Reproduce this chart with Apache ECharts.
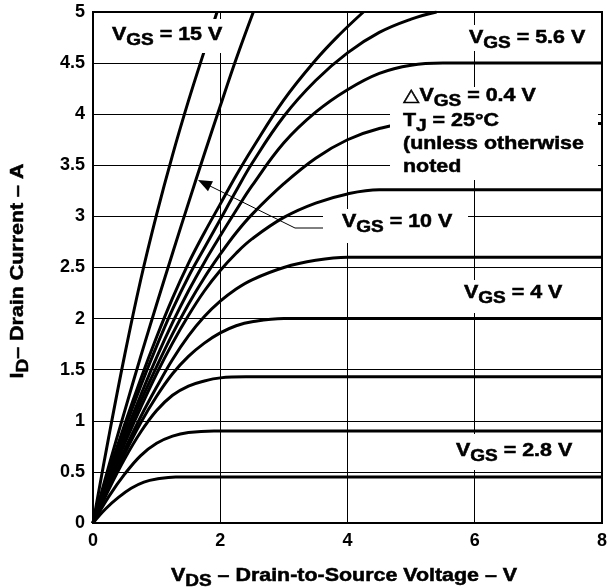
<!DOCTYPE html>
<html>
<head>
<meta charset="utf-8">
<script src="https://cdn.jsdelivr.net/npm/echarts@6/dist/echarts.min.js"></script>
<style>
  html, body { margin: 0; padding: 0; background: #fff; }
  #chart { width: 610px; height: 588px; }
</style>
</head>
<body>
<div id="chart"></div>
<script>
// Axis ticks
const xTicks = [0, 2, 4, 6, 8];
const yTicks = [0, 0.5, 1, 1.5, 2, 2.5, 3, 3.5, 4, 4.5, 5];

// Output characteristics: [V_DS (V), I_D (A)] for each gate voltage
const vgsLabels = ['2.8', '3.2', '3.6', '4.0', '4.4', '4.8', '5.2', '5.6', '6.0', '6.4', '10', '15'];
const id_2v8 = [[0,0],[0.2,0.14],[0.4,0.25],[0.6,0.34],[0.8,0.4],[1.0,0.43],[1.3,0.45],[8,0.45]];
const id_3v2 = [[0,0],[0.25,0.26],[0.5,0.48],[0.75,0.66],[1.0,0.78],[1.25,0.85],[1.5,0.885],[1.9,0.9],[8,0.9]];
const id_3v6 = [[0,0],[0.25,0.33],[0.5,0.63],[0.75,0.89],[1.0,1.1],[1.25,1.25],[1.5,1.34],[1.75,1.39],[2.0,1.42],[2.4,1.43],[8,1.43]];
const id_4v0 = [[0,0],[0.25,0.35],[0.5,0.68],[0.75,0.98],[1.0,1.24],[1.25,1.46],[1.5,1.63],[1.75,1.76],[2.0,1.86],[2.25,1.93],[2.5,1.97],[3.0,2.0],[8,2.0]];
const id_4v4 = [[0,0],[0.25,0.37],[0.5,0.72],[0.75,1.04],[1.0,1.33],[1.25,1.6],[1.5,1.83],[1.75,2.02],[2.0,2.17],[2.25,2.29],[2.5,2.38],[3.0,2.5],[3.5,2.57],[4.0,2.6],[8,2.6]];
const id_4v8 = [[0,0],[0.25,0.4],[0.5,0.78],[0.75,1.13],[1.0,1.46],[1.25,1.76],[1.5,2.03],[1.75,2.27],[2.0,2.47],[2.25,2.64],[2.5,2.78],[3.0,2.99],[3.5,3.13],[4.0,3.22],[4.5,3.26],[8,3.26]];
const id_5v2 = [[0,0],[0.25,0.42],[0.5,0.82],[0.75,1.19],[1.0,1.53],[1.25,1.85],[1.5,2.14],[1.75,2.4],[2.0,2.63],[2.25,2.84],[2.5,3.02],[3.0,3.32],[3.5,3.57],[4.0,3.75],[4.5,3.86],[5.0,3.91],[5.5,3.91],[8,3.91]];
const id_5v6 = [[0,0],[0.25,0.44],[0.5,0.86],[0.75,1.25],[1.0,1.62],[1.25,1.96],[1.5,2.27],[1.75,2.55],[2.0,2.81],[2.25,3.06],[2.5,3.3],[3.0,3.72],[3.5,4.02],[4.0,4.24],[4.5,4.4],[5.0,4.48],[5.5,4.5],[8,4.5]];
const id_6v0 = [[0,0],[0.25,0.47],[0.5,0.92],[0.75,1.34],[1.0,1.73],[1.25,2.09],[1.5,2.41],[1.75,2.69],[2.0,2.97],[2.25,3.25],[2.5,3.52],[3.0,3.98],[3.5,4.33],[4.0,4.6],[4.5,4.8],[5.0,4.93],[5.4,5.0]];
const id_6v4 = [[0,0],[0.25,0.5],[0.5,0.97],[0.75,1.41],[1.0,1.82],[1.25,2.2],[1.5,2.54],[1.75,2.84],[2.0,3.12],[2.25,3.4],[2.5,3.66],[3.0,4.14],[3.5,4.53],[3.86,4.77],[4.25,5.0]];
const id_10v = [[0,0],[0.25,0.56],[0.5,1.1],[0.75,1.63],[1.0,2.14],[1.25,2.64],[1.5,3.13],[1.75,3.61],[2.0,4.08],[2.25,4.54],[2.52,5.0]];
const id_15v = [[0,0],[0.25,0.85],[0.5,1.65],[0.75,2.38],[1.0,3.02],[1.25,3.6],[1.5,4.13],[1.75,4.62],[1.95,5.0]];

const curves = [id_2v8, id_3v2, id_3v6, id_4v0, id_4v4, id_4v8, id_5v2, id_5v6, id_6v0, id_6v4, id_10v, id_15v];

const FONT = '"Liberation Sans", Arial, "DejaVu Sans", sans-serif';
const SX = 1.19; // horizontal stretch of the annotation lettering
const measureCtx = document.createElement('canvas').getContext('2d');
function textWidth(str, size) {
  measureCtx.font = 'bold ' + size + 'px ' + FONT;
  return measureCtx.measureText(str).width * SX;
}

// Lays out a run of text pieces (normal / subscript) from left edge x, cap centre y
function runText(parts, x, y, size, subSize, subDrop) {
  const out = [];
  let cx = x;
  parts.forEach(function (p) {
    const s = p[1] ? subSize : size;
    out.push({
      type: 'text',
      x: cx,
      y: y + (p[1] ? subDrop : 0),
      scaleX: SX,
      z: 101,
      style: {
        text: p[0],
        font: 'bold ' + s + 'px ' + FONT,
        fill: '#000',
        stroke: '#000',
        lineWidth: 0.5,
        align: 'left',
        verticalAlign: 'middle'
      }
    });
    cx += textWidth(p[0], s);
  });
  return out;
}
function runWidth(parts, size, subSize) {
  return parts.reduce(function (w, p) { return w + textWidth(p[0], p[1] ? subSize : size); }, 0);
}
function whiteBox(x, y, w, h) {
  return { type: 'rect', z: 100, shape: { x: x, y: y, width: w, height: h }, style: { fill: '#fff' } };
}

function vgsLabel(value) {
  return [['V', 0], ['GS', 1], [' = ' + value + ' V', 0]];
}

const elements = [];
// VGS = 15 V
elements.push(whiteBox(103, 19, 123, 34));
elements.push.apply(elements, runText(vgsLabel('15'), 112, 35, 18, 16, 6));
// VGS = 5.6 V
elements.push(whiteBox(462, 25, 130, 26));
elements.push.apply(elements, runText(vgsLabel('5.6'), 469, 38, 18, 16, 6));
// Test-condition note
elements.push(whiteBox(390, 87, 208, 93));
elements.push.apply(elements, runText([['\u25B3V', 0], ['GS', 1], [' = 0.4 V', 0]], 403, 96, 18, 16, 6));
elements.push.apply(elements, runText([['T', 0], ['J', 1], [' = 25\u00B0C', 0]], 403, 121, 18, 16, 6));
elements.push.apply(elements, runText([['(unless otherwise', 0]], 403, 144, 18, 16, 6));
elements.push.apply(elements, runText([['noted', 0]], 403, 167, 18, 16, 6));
// VGS = 10 V with leader arrow
elements.push(whiteBox(323, 209, 145, 34));
elements.push.apply(elements, runText(vgsLabel('10'), 342, 222, 18, 16, 6));
elements.push({ type: 'polyline', z: 99, shape: { points: [[323, 228], [295, 228], [210, 186]] }, style: { stroke: '#000', lineWidth: 1, fill: null } });
elements.push({ type: 'polygon', z: 99, shape: { points: [[198, 180], [213, 181.3], [208, 191.2]] }, style: { fill: '#000' } });
// VGS = 4 V
elements.push(whiteBox(458, 280, 112, 33));
elements.push.apply(elements, runText(vgsLabel('4'), 464, 293, 18, 16, 6));
// VGS = 2.8 V
elements.push(whiteBox(450, 434, 130, 36));
elements.push.apply(elements, runText(vgsLabel('2.8'), 456, 451, 18, 16, 6));

// Axis titles
const xTitle = [['V', 0], ['DS', 1], [' \u2013 Drain-to-Source Voltage \u2013 V', 0]];
elements.push.apply(elements, runText(xTitle, 344 - runWidth(xTitle, 18, 16) / 2, 576, 18, 16, 6));
const yTitle = [['I', 0], ['D', 1], ['\u2013 Drain Current \u2013 A', 0]];
elements.push({
  type: 'group', x: 18, y: 271, rotation: Math.PI / 2,
  children: runText(yTitle, -runWidth(yTitle, 18, 16) / 2, 0, 18, 16, 6)
});

const chart = echarts.init(document.getElementById('chart'), null, { renderer: 'canvas' });
chart.setOption({
  animation: false,
  backgroundColor: '#fff',
  grid: { left: 93, right: 5, top: 12, bottom: 65, show: true, borderColor: '#000', borderWidth: 2, backgroundColor: 'transparent' },
  xAxis: {
    type: 'value', min: xTicks[0], max: xTicks[xTicks.length - 1], interval: xTicks[1] - xTicks[0],
    axisLine: { show: true, lineStyle: { color: '#000', width: 2 } },
    axisTick: { show: false },
    splitLine: { show: true, lineStyle: { color: '#000', width: 1 } },
    axisLabel: { color: '#000', fontSize: 18, fontWeight: 'bold', fontFamily: FONT, margin: 9 }
  },
  yAxis: {
    type: 'value', min: yTicks[0], max: yTicks[yTicks.length - 1], interval: yTicks[1] - yTicks[0],
    axisLine: { show: true, lineStyle: { color: '#000', width: 2 } },
    axisTick: { show: false },
    splitLine: { show: true, lineStyle: { color: '#000', width: 1 } },
    axisLabel: { color: '#000', fontSize: 18, fontWeight: 'bold', fontFamily: FONT, margin: 8 }
  },
  series: curves.map(function (d, i) {
    return {
      name: 'VGS = ' + vgsLabels[i] + ' V',
      type: 'line', data: d, smooth: 0.4, showSymbol: false, symbol: 'none',
      lineStyle: { color: '#000', width: 3 }, z: 5
    };
  }),
  graphic: { elements: elements }
});
</script>
</body>
</html>
